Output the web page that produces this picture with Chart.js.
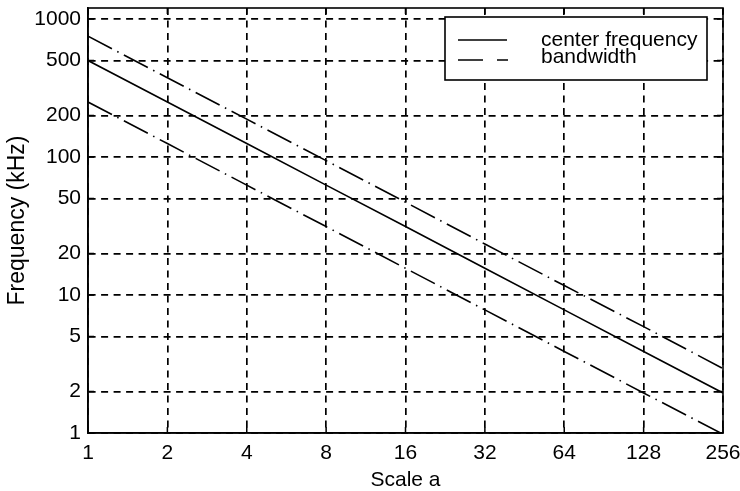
<!DOCTYPE html>
<html>
<head>
<meta charset="utf-8">
<script src="https://cdn.jsdelivr.net/npm/chart.js@4"></script>
<style>
  body { margin: 0; background: #fff; }
  #wrap { width: 740px; height: 491px; }
</style>
</head>
<body>
<div id="wrap"><canvas id="myChart" width="740" height="491"></canvas></div>
<script>
// values
var scaleA = [1, 2, 4, 8, 16, 32, 64, 128, 256];
var centerFreq = [500, 250, 125, 62.5, 31.3, 15.6, 7.8, 3.9, 1.95];
var bandUpper = [750, 375, 188, 94, 47, 23.4, 11.7, 5.9, 2.93];
var bandLower = [250, 125, 62.5, 31.3, 15.6, 7.8, 3.9, 1.95, 0.98];
var xTicks = [1, 2, 4, 8, 16, 32, 64, 128, 256];
var yTicks = [1, 2, 5, 10, 20, 50, 100, 200, 500, 1000];

var fontFam = '"Liberation Sans", Arial, sans-serif';
var bwDash = [27, 6, 1.5, 6];

function pts(ys) {
    var out = [];
    for (var i = 0; i < scaleA.length; i++) {
        out.push({ x: scaleA[i], y: ys[i] });
    }
    return out;
}

// box round the plot, inner tick marks, legend box
var boxPlugin = {
    id: 'boxPlugin',
    afterDraw: function (chart) {
        var ctx = chart.ctx;
        var a = chart.chartArea;
        var xs = chart.scales.x, ys = chart.scales.y;
        ctx.save();
        ctx.strokeStyle = '#000';
        ctx.lineWidth = 1.6;
        ctx.setLineDash([]);
        ctx.strokeRect(a.left, a.top, a.right - a.left, a.bottom - a.top);

        ctx.lineWidth = 1.5;
        ctx.beginPath();
        xTicks.forEach(function (v) {
            var px = xs.getPixelForValue(v);
            ctx.moveTo(px, a.bottom); ctx.lineTo(px, a.bottom - 6);
            ctx.moveTo(px, a.top); ctx.lineTo(px, a.top + 6);
        });
        yTicks.forEach(function (v) {
            var py = ys.getPixelForValue(v);
            ctx.moveTo(a.left, py); ctx.lineTo(a.left + 6, py);
            ctx.moveTo(a.right, py); ctx.lineTo(a.right - 6, py);
        });
        ctx.stroke();

        // legend
        var lx = 445, ly = 17, lw = 262, lh = 63;
        ctx.fillStyle = '#fff';
        ctx.fillRect(lx, ly, lw, lh);
        ctx.lineWidth = 1.6;
        ctx.strokeRect(lx, ly, lw, lh);
        ctx.beginPath();
        ctx.moveTo(458, 40);
        ctx.lineTo(507, 40);
        ctx.stroke();
        ctx.setLineDash([25, 14]);
        ctx.beginPath();
        ctx.moveTo(458, 60);
        ctx.lineTo(508, 60);
        ctx.stroke();
        ctx.setLineDash([]);
        ctx.fillStyle = '#000';
        ctx.font = '21px ' + fontFam;
        ctx.textBaseline = 'alphabetic';
        ctx.fillText(chart.data.datasets[0].label, 541, 46);
        ctx.fillText(chart.data.datasets[1].label, 541, 63);
        ctx.restore();
    }
};

var ctx = document.getElementById('myChart').getContext('2d');
var myChart = new Chart(ctx, {
    type: 'line',
    data: {
        datasets: [{
            label: 'center frequency',
            data: pts(centerFreq),
            borderColor: '#000',
            borderWidth: 1.6,
            pointRadius: 0,
            tension: 0
        }, {
            label: 'bandwidth',
            data: pts(bandUpper),
            borderColor: '#000',
            borderWidth: 1.6,
            borderDash: bwDash,
            pointRadius: 0,
            tension: 0
        }, {
            label: 'bandwidth',
            data: pts(bandLower),
            borderColor: '#000',
            borderWidth: 1.6,
            borderDash: bwDash,
            pointRadius: 0,
            tension: 0
        }]
    },
    options: {
        responsive: false,
        animation: false,
        layout: { padding: { top: 8, right: 17, left: 0, bottom: 0 } },
        plugins: {
            legend: { display: false },
            tooltip: { enabled: false }
        },
        scales: {
            x: {
                type: 'logarithmic',
                min: 1,
                max: 256,
                afterBuildTicks: function (scale) {
                    scale.ticks = xTicks.map(function (v) { return { value: v }; });
                },
                afterFit: function (scale) {
                    scale.height = 58;
                    scale.paddingLeft = 0;
                    scale.paddingRight = 0;
                },
                ticks: {
                    color: '#000',
                    font: { family: fontFam, size: 21 },
                    padding: 8,
                    maxRotation: 0,
                    autoSkip: false,
                    callback: function (v) { return String(v); }
                },
                grid: { color: '#000', lineWidth: 1.7, drawTicks: false },
                border: { display: true, color: '#000', width: 1.6, dash: [7, 5.5] },
                title: {
                    display: true,
                    text: 'Scale a',
                    color: '#000',
                    font: { family: fontFam, size: 21 },
                    padding: { top: 0, bottom: -2 }
                }
            },
            y: {
                type: 'logarithmic',
                min: 1,
                max: 1200,
                afterBuildTicks: function (scale) {
                    scale.ticks = yTicks.map(function (v) { return { value: v }; });
                },
                afterFit: function (scale) {
                    scale.width = 88;
                    scale.paddingTop = 0;
                    scale.paddingBottom = 0;
                },
                ticks: {
                    color: '#000',
                    font: { family: fontFam, size: 21 },
                    padding: 7,
                    autoSkip: false,
                    callback: function (v) { return String(v); }
                },
                grid: { color: '#000', lineWidth: 1.7, drawTicks: false },
                border: { display: true, color: '#000', width: 1.6, dash: [7, 5.5] },
                title: {
                    display: true,
                    text: 'Frequency (kHz)',
                    color: '#000',
                    font: { family: fontFam, size: 23 },
                    padding: { top: 4, bottom: 0 }
                }
            }
        }
    },
    plugins: [boxPlugin]
});
</script>
</body>
</html>
